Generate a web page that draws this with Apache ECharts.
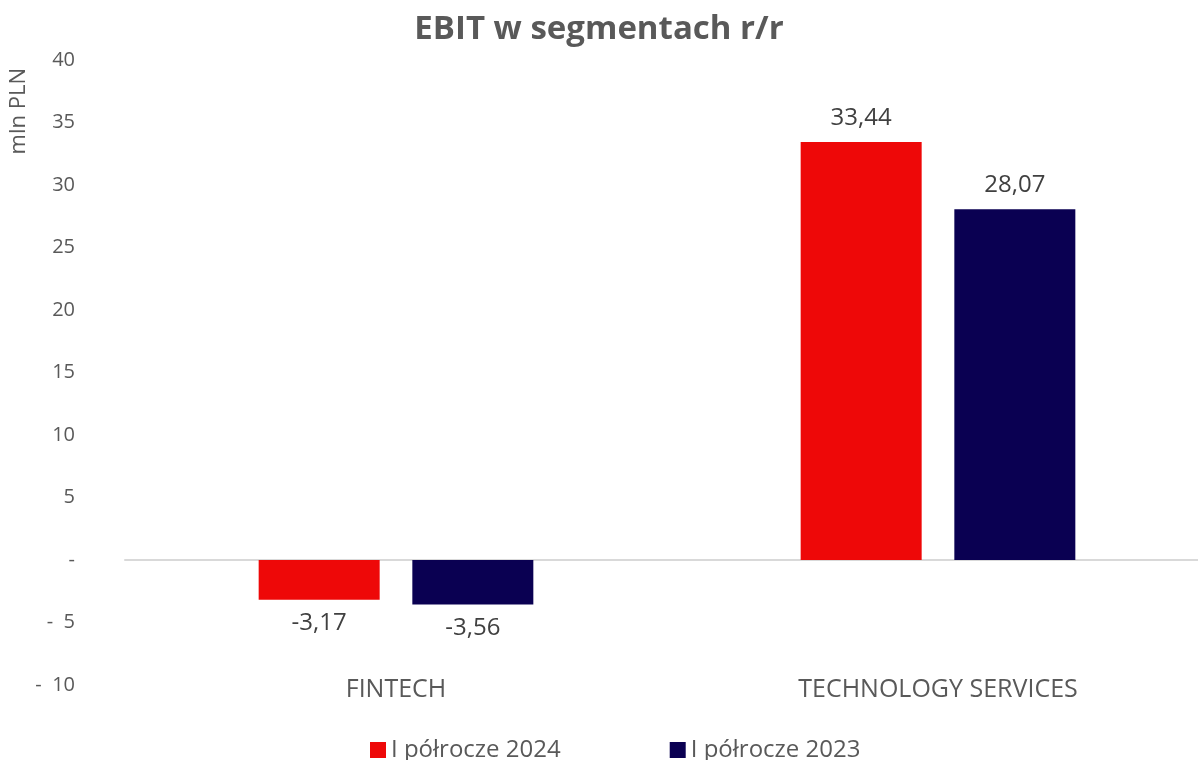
<!DOCTYPE html>
<html>
<head>
<meta charset="utf-8">
<script src="https://cdn.jsdelivr.net/npm/echarts@6/dist/echarts.min.js"></script>
<style>
  html, body { margin: 0; padding: 0; background: #fff; }
  #chart { width: 1198px; height: 760px; }
</style>
</head>
<body>
<div id="chart"></div>
<script>
// dane z wykresu
const categories = ['FINTECH', 'TECHNOLOGY SERVICES']
const seriesNames = ['I półrocze 2024', 'I półrocze 2023']
const values2024 = [-3.17, 33.44]
const values2023 = [-3.56, 28.07]
const colors = ['#EE0808', '#0A0052']

// format liczby z przecinkiem
const fmt = v => v.toFixed(2).replace('.', ',')

// etykiety osi Y w stylu księgowym
const yLabel = v => {
  if (v === 0) return '-'
  if (v < 0) return '-  ' + Math.abs(v)
  return String(v)
}

const toData = arr => arr.map(v => ({
  value: v,
  label: { position: v < 0 ? 'bottom' : 'top' }
}))

const chart = echarts.init(document.getElementById('chart'))

const barLabel = {
  show: true,
  distance: 12,
  fontFamily: 'Open Sans',
  fontSize: 24,
  color: '#404040',
  formatter: p => fmt(p.value)
}

const option = {
  animation: false,
  color: colors,
  title: {
    text: 'EBIT w segmentach r/r',
    left: 'center',
    top: 8,
    textStyle: { fontFamily: 'Open Sans', fontWeight: 'bold', fontSize: 33, color: '#595959' }
  },
  graphic: [{
    type: 'text',
    left: 8,
    top: 68,
    rotation: Math.PI / 2,
    style: { text: 'mln PLN', fontFamily: 'Open Sans', fontSize: 22, fill: '#595959' }
  }],
  legend: {
    data: seriesNames,
    left: 365,
    top: 733,
    icon: 'rect',
    itemWidth: 16,
    itemHeight: 16,
    itemGap: 109,
    textStyle: { fontFamily: 'Open Sans', fontSize: 24, color: '#595959' }
  },
  grid: { left: 125, top: 60, width: 1084, height: 625, outerBoundsMode: 'none' },
  xAxis: {
    type: 'category',
    data: categories,
    axisLine: { onZero: true, lineStyle: { color: '#d9d9d9', width: 2 } },
    axisTick: { show: false },
    axisLabel: { margin: -8, fontFamily: 'Open Sans', fontSize: 25, color: '#595959' }
  },
  yAxis: {
    type: 'value',
    min: -10,
    max: 40,
    interval: 5,
    axisLine: { show: false },
    axisTick: { show: false },
    splitLine: { show: false },
    axisLabel: { margin: 50, fontFamily: 'Open Sans', fontSize: 20, color: '#595959', formatter: yLabel }
  },
  series: [
    {
      name: seriesNames[0],
      type: 'bar',
      barWidth: 121,
      barGap: '27%',
      data: toData(values2024),
      label: barLabel
    },
    {
      name: seriesNames[1],
      type: 'bar',
      barWidth: 121,
      barGap: '27%',
      data: toData(values2023),
      label: barLabel
    }
  ]
}

chart.setOption(option)
</script>
</body>
</html>
